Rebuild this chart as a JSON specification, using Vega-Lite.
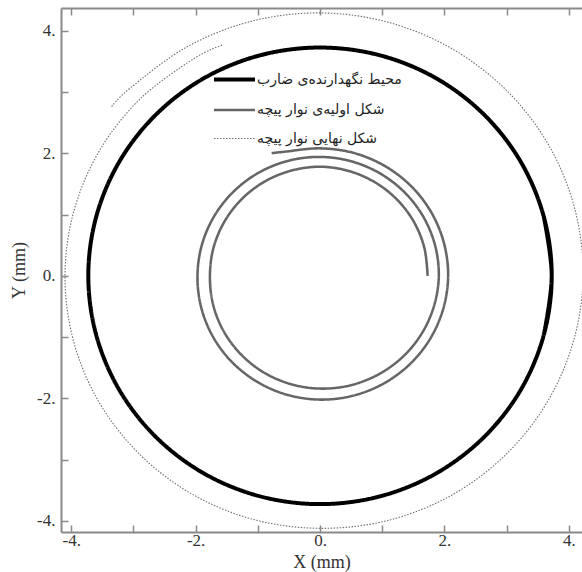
{
"$schema": "https://vega.github.io/schema/vega-lite/v6.json",
"width": 521, "height": 524,
"autosize": {"type": "none"},
"padding": {"left": 61, "top": 8, "right": 0, "bottom": 40},
"background": "white",
"config": {
  "view": {"stroke": null},
  "axis": {"grid": false, "domainColor": "#8a8a8a", "domainWidth": 2, "tickColor": "#8a8a8a", "tickWidth": 1.5,
    "labelFont": "Liberation Serif", "labelFontSize": 17, "labelColor": "#333", "labelFlush": false, "labelOverlap": false, "labelBound": false,
    "titleFont": "Liberation Serif", "titleFontSize": 18, "titleFontWeight": "normal", "titleColor": "#333"},
  "legend": {"orient": "none", "legendX": 151, "legendY": 49, "padding": 0, "symbolType": "stroke", "symbolSize": 1681,
    "labelFont": "DejaVu Sans", "labelFontSize": 14, "labelColor": "#222", "labelOffset": 0, "rowPadding": -6}
},
"resolve": {"axis": {"x": "independent"}},
"layer": [
{
  "data": {"values": [
{"s":"a","o":-1,"x":3.598,"y":-0.964},
{"s":"a","o":0,"x":3.725,"y":0},{"s":"a","o":1,"x":3.598,"y":0.964},{"s":"a","o":2,"x":3.226,"y":1.863},{"s":"a","o":3,"x":2.634,"y":2.634},{"s":"a","o":4,"x":1.863,"y":3.226},{"s":"a","o":5,"x":0.964,"y":3.598},{"s":"a","o":6,"x":0,"y":3.725},{"s":"a","o":7,"x":-0.964,"y":3.598},{"s":"a","o":8,"x":-1.863,"y":3.226},{"s":"a","o":9,"x":-2.634,"y":2.634},{"s":"a","o":10,"x":-3.226,"y":1.863},{"s":"a","o":11,"x":-3.598,"y":0.964},{"s":"a","o":12,"x":-3.725,"y":0},{"s":"a","o":13,"x":-3.598,"y":-0.964},{"s":"a","o":14,"x":-3.226,"y":-1.863},{"s":"a","o":15,"x":-2.634,"y":-2.634},{"s":"a","o":16,"x":-1.863,"y":-3.226},{"s":"a","o":17,"x":-0.964,"y":-3.598},{"s":"a","o":18,"x":0,"y":-3.725},{"s":"a","o":19,"x":0.964,"y":-3.598},{"s":"a","o":20,"x":1.863,"y":-3.226},{"s":"a","o":21,"x":2.634,"y":-2.634},{"s":"a","o":22,"x":3.226,"y":-1.863},{"s":"a","o":23,"x":3.598,"y":-0.964},{"s":"a","o":24,"x":3.725,"y":0},{"s":"a","o":25,"x":3.598,"y":0.964},
{"s":"b","o":0,"x":1.730,"y":0},{"s":"b","o":1,"x":1.679,"y":0.450},{"s":"b","o":2,"x":1.513,"y":0.874},{"s":"b","o":3,"x":1.241,"y":1.241},{"s":"b","o":4,"x":0.882,"y":1.527},{"s":"b","o":5,"x":0.459,"y":1.712},{"s":"b","o":6,"x":0,"y":1.780},{"s":"b","o":7,"x":-0.460,"y":1.717},{"s":"b","o":8,"x":-0.889,"y":1.539},{"s":"b","o":9,"x":-1.255,"y":1.255},{"s":"b","o":10,"x":-1.535,"y":0.887},{"s":"b","o":11,"x":-1.712,"y":0.459},{"s":"b","o":12,"x":-1.770,"y":0},{"s":"b","o":13,"x":-1.721,"y":-0.461},{"s":"b","o":14,"x":-1.553,"y":-0.897},{"s":"b","o":15,"x":-1.276,"y":-1.276},{"s":"b","o":16,"x":-0.909,"y":-1.574},{"s":"b","o":17,"x":-0.473,"y":-1.766},{"s":"b","o":18,"x":0,"y":-1.840},{"s":"b","o":19,"x":0.479,"y":-1.789},{"s":"b","o":20,"x":0.932,"y":-1.613},{"s":"b","o":21,"x":1.326,"y":-1.326},{"s":"b","o":22,"x":1.634,"y":-0.944},{"s":"b","o":23,"x":1.833,"y":-0.491},{"s":"b","o":24,"x":1.910,"y":0},{"s":"b","o":25,"x":1.850,"y":0.496},{"s":"b","o":26,"x":1.663,"y":0.960},{"s":"b","o":27,"x":1.361,"y":1.361},{"s":"b","o":28,"x":0.965,"y":1.671},{"s":"b","o":29,"x":0.501,"y":1.869},{"s":"b","o":30,"x":0,"y":1.940},{"s":"b","o":31,"x":-0.503,"y":1.879},{"s":"b","o":32,"x":-0.975,"y":1.689},{"s":"b","o":33,"x":-1.382,"y":1.382},{"s":"b","o":34,"x":-1.697,"y":0.980},{"s":"b","o":35,"x":-1.898,"y":0.509},{"s":"b","o":36,"x":-1.970,"y":0},{"s":"b","o":37,"x":-1.911,"y":-0.512},{"s":"b","o":38,"x":-1.721,"y":-0.994},{"s":"b","o":39,"x":-1.411,"y":-1.411},{"s":"b","o":40,"x":-1.002,"y":-1.735},{"s":"b","o":41,"x":-0.521,"y":-1.943},{"s":"b","o":42,"x":0,"y":-2.020},{"s":"b","o":43,"x":0.525,"y":-1.958},{"s":"b","o":44,"x":1.017,"y":-1.761},{"s":"b","o":45,"x":1.443,"y":-1.443},{"s":"b","o":46,"x":1.773,"y":-1.024},{"s":"b","o":47,"x":1.983,"y":-0.531},{"s":"b","o":48,"x":2.060,"y":0},{"s":"b","o":49,"x":1.993,"y":0.534},{"s":"b","o":50,"x":1.790,"y":1.034},{"s":"b","o":51,"x":1.464,"y":1.464},{"s":"b","o":52,"x":1.037,"y":1.795},{"s":"b","o":53,"x":0.538,"y":2.006},{"s":"b","o":54,"x":0,"y":2.080},{"s":"b","o":55,"x":-0.544,"y":2.028},{"s":"b","o":56,"x":-0.777,"y":2.0},
{"s":"c","o":0,"x":-1.575,"y":3.764},{"s":"c","o":1,"x":-2.041,"y":3.535},{"s":"c","o":2,"x":-2.889,"y":2.889},{"s":"c","o":3,"x":-3.543,"y":2.046},{"s":"c","o":4,"x":-3.956,"y":1.060},{"s":"c","o":5,"x":-4.100,"y":0},{"s":"c","o":6,"x":-3.963,"y":-1.062},{"s":"c","o":7,"x":-3.557,"y":-2.054},{"s":"c","o":8,"x":-2.906,"y":-2.906},{"s":"c","o":9,"x":-2.057,"y":-3.562},{"s":"c","o":10,"x":-1.065,"y":-3.977},{"s":"c","o":11,"x":0,"y":-4.120},{"s":"c","o":12,"x":1.071,"y":-3.997},{"s":"c","o":13,"x":2.079,"y":-3.600},{"s":"c","o":14,"x":2.952,"y":-2.952},{"s":"c","o":15,"x":3.631,"y":-2.097},{"s":"c","o":16,"x":4.068,"y":-1.090},{"s":"c","o":17,"x":4.230,"y":0},{"s":"c","o":18,"x":4.095,"y":1.097},{"s":"c","o":19,"x":3.681,"y":2.125},{"s":"c","o":20,"x":3.012,"y":3.012},{"s":"c","o":21,"x":2.135,"y":3.698},{"s":"c","o":22,"x":1.108,"y":4.134},{"s":"c","o":23,"x":0,"y":4.290},{"s":"c","o":24,"x":-1.112,"y":4.151},{"s":"c","o":25,"x":-2.153,"y":3.728},{"s":"c","o":26,"x":-3.058,"y":3.058},{"s":"c","o":27,"x":-3.358,"y":2.749}
  ]},
  "mark": {"type": "line", "interpolate": "cardinal"},
  "encoding": {
    "x": {"field": "x", "type": "quantitative", "scale": {"domain": [-4.164, 4.212], "nice": false, "zero": false},
      "axis": {"orient": "bottom", "values": [-4,-3,-2,-1,0,1,2,3,4], "labelExpr": "datum.value % 2 == 0 ? datum.value + '.' : ''", "title": "X (mm)", "tickSize": -7, "labelPadding": 7, "titlePadding": 5,
        "encode": {"ticks": {"update": {"y2": {"signal": "datum.value % 2 == 0 ? -7 : -3"}}}}}},
    "y": {"field": "y", "type": "quantitative", "scale": {"domain": [-4.18, 4.37], "nice": false, "zero": false},
      "axis": {"orient": "left", "values": [-4,-3,-2,-1,0,1,2,3,4], "labelExpr": "datum.value % 2 == 0 ? datum.value + '.' : ''", "title": "Y (mm)", "tickSize": -7, "labelPadding": 13, "titlePadding": 8,
        "encode": {"ticks": {"update": {"x2": {"signal": "datum.value % 2 == 0 ? 7 : 3"}}}}}},
    "order": {"field": "o", "type": "quantitative"},
    "color": {"field": "s", "type": "nominal", "scale": {"domain": ["a","b","c"], "range": ["#000000","#666666","#6e6e6e"]},
      "legend": {"title": null, "labelExpr": "datum.label == 'a' ? 'محیط نگهدارنده‌ی ضارب' : datum.label == 'b' ? 'شکل اولیه‌ی نوار پیچه' : 'شکل نهایی نوار پیچه'"}},
    "strokeDash": {"field": "s", "type": "nominal", "scale": {"domain": ["a","b","c"], "range": [[1,0],[1,0],[1.5,1.5]]},
      "legend": {"title": null, "labelExpr": "datum.label == 'a' ? 'محیط نگهدارنده‌ی ضارب' : datum.label == 'b' ? 'شکل اولیه‌ی نوار پیچه' : 'شکل نهایی نوار پیچه'"}},
    "strokeWidth": {"field": "s", "type": "ordinal", "scale": {"domain": ["a","b","c"], "range": [4, 1.1, 1.2]},
      "legend": {"title": null, "labelExpr": "datum.label == 'a' ? 'محیط نگهدارنده‌ی ضارب' : datum.label == 'b' ? 'شکل اولیه‌ی نوار پیچه' : 'شکل نهایی نوار پیچه'"}}
  }
},
{
  "data": {"values": [{"x": 0}]},
  "mark": {"type": "point", "opacity": 0},
  "encoding": {
    "x": {"field": "x", "type": "quantitative",
      "axis": {"orient": "top", "values": [-4,-3,-2,-1,0,1,2,3,4], "labels": false, "title": null, "tickSize": -7,
        "encode": {"ticks": {"update": {"y2": {"signal": "datum.value % 2 == 0 ? 7 : 3"}}}}}}
  }
}
]
}
